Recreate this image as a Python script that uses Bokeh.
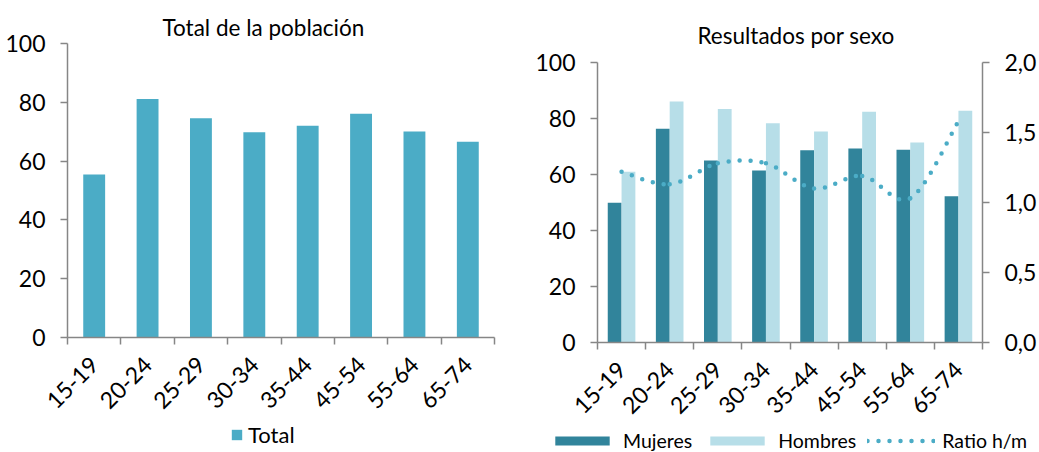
import numpy as np
from bokeh.plotting import figure
from bokeh.layouts import row, column
from bokeh.models import (Range1d, LinearAxis, FixedTicker, CustomJSTickFormatter,
                          Legend, LegendItem)
from bokeh.embed import file_html
from bokeh.resources import INLINE

# ---- data ----
categories = ["15-19", "20-24", "25-29", "30-34", "35-44", "45-54", "55-64", "65-74"]
total = [55.4, 81.1, 74.6, 69.8, 72.0, 76.1, 70.1, 66.6]
mujeres = [49.9, 76.3, 65.0, 61.4, 68.7, 69.3, 68.8, 52.2]
hombres = [61.0, 86.1, 83.4, 78.3, 75.4, 82.4, 71.4, 82.8]
ratio = [1.22, 1.13, 1.28, 1.28, 1.10, 1.19, 1.03, 1.58]
y_ticks = [0, 20, 40, 60, 80, 100]
ratio_ticks = [0.0, 0.5, 1.0, 1.5, 2.0]

FONT = "Lato"
FS = "23px"
TITLE_FS = "22.5px"
AXIS_COLOR = "#868686"
C_TOTAL = "#4BACC6"
C_MUJ = "#31849B"
C_HOM = "#B7DEE8"

n = len(categories)
xc = np.arange(n) + 0.5
cat_fmt = CustomJSTickFormatter(args=dict(labels=categories),
                                code="return labels[Math.floor(tick)];")


def style_x(ax):
    ax.ticker = FixedTicker(ticks=list(xc), minor_ticks=list(range(n + 1)))
    ax.formatter = cat_fmt
    ax.axis_line_color = AXIS_COLOR
    ax.axis_line_width = 1.5
    ax.major_tick_line_color = None
    ax.major_tick_out = 7
    ax.major_tick_in = 0
    ax.minor_tick_line_color = AXIS_COLOR
    ax.minor_tick_line_width = 1.5
    ax.minor_tick_out = 7
    ax.minor_tick_in = 0
    ax.major_label_orientation = np.pi / 4
    ax.major_label_standoff = 16
    ax.major_label_text_font = FONT
    ax.major_label_text_font_size = FS
    ax.major_label_text_color = "black"


def style_y(ax, ticks, standoff):
    ax.ticker = FixedTicker(ticks=ticks)
    ax.axis_line_color = AXIS_COLOR
    ax.axis_line_width = 1.5
    ax.major_tick_line_color = AXIS_COLOR
    ax.major_tick_line_width = 1.5
    ax.major_tick_out = 7
    ax.major_tick_in = 0
    ax.minor_tick_line_color = None
    ax.major_label_standoff = standoff
    ax.major_label_text_font = FONT
    ax.major_label_text_font_size = FS
    ax.major_label_text_color = "black"


def base_fig(w, h, title, bl, br, bt, bb, title_offset, standoff):
    p = figure(width=w, height=h, x_range=Range1d(0, n), y_range=Range1d(0, 100),
               output_backend="svg", toolbar_location=None,
               min_border_left=bl, min_border_right=br, min_border_top=bt,
               min_border_bottom=bb, frame_align=False)
    p.title.text = title
    p.title.align = "left"
    p.title.offset = title_offset
    p.title.standoff = standoff
    p.title.text_font = FONT
    p.title.text_font_size = TITLE_FS
    p.title.text_font_style = "normal"
    p.title.text_color = "black"
    p.outline_line_color = None
    p.xgrid.visible = False
    p.ygrid.visible = False
    style_x(p.xaxis[0])
    style_y(p.yaxis[0], y_ticks, 15)
    return p


def legend_fig(w, h):
    f = figure(width=w, height=h, x_range=Range1d(0, 1), y_range=Range1d(0, 1),
               x_axis_type=None, y_axis_type=None, min_border=0,
               output_backend="svg", toolbar_location=None, frame_align=False)
    f.outline_line_color = None
    f.xgrid.visible = False
    f.ygrid.visible = False
    return f


def make_legend(items, loc, gw, gh, standoff, spacing, fs):
    return Legend(items=items, location=loc, orientation="horizontal",
                  glyph_width=gw, glyph_height=gh, label_standoff=standoff,
                  spacing=spacing, label_text_font=FONT, label_text_font_size=fs,
                  label_text_color="black", padding=0, margin=0,
                  border_line_color=None, background_fill_alpha=0)


# ---- left: total ----
p1 = base_fig(523, 420, "Total de la población", 67, 29, 43, 83, 95, 6)
p1.vbar(x=xc, top=total, width=0.41, fill_color=C_TOTAL, line_color=None)

lf1 = legend_fig(523, 32)
k_tot = lf1.vbar(x=xc, top=total, width=0.41, fill_color=C_TOTAL, line_color=None,
                 visible=False)
lf1.add_layout(make_legend([LegendItem(label="Total", renderers=[k_tot])],
                           (230, 4), 13, 13, 5, 10, "22px"), "center")

# ---- right: por sexo ----
p2 = base_fig(516, 424, "Resultados por sexo", 74, 57, 62, 81, 100, 27)
p2.extra_y_ranges = {"ratio": Range1d(0, 2)}
ax_r = LinearAxis(y_range_name="ratio")
style_y(ax_r, ratio_ticks, 15)
ax_r.formatter = CustomJSTickFormatter(code="return tick.toFixed(1).replace('.', ',');")
p2.add_layout(ax_r, "right")

bw = 0.287
p2.vbar(x=xc - bw / 2, top=mujeres, width=bw, fill_color=C_MUJ, line_color=None)
p2.vbar(x=xc + bw / 2, top=hombres, width=bw, fill_color=C_HOM, line_color=None)

# smoothed dotted ratio line (bezier through the data points)
rx = list(xc)
ry = ratio
px = [rx[0]] + rx + [rx[-1]]
py = [ry[0]] + ry + [ry[-1]]
x0, y0, x1, y1, cx0, cy0, cx1, cy1 = [], [], [], [], [], [], [], []
for i in range(n - 1):
    j = i + 1
    x0.append(px[j]); y0.append(py[j])
    x1.append(px[j + 1]); y1.append(py[j + 1])
    cx0.append(px[j] + (px[j + 1] - px[j - 1]) / 6)
    cy0.append(py[j] + (py[j + 1] - py[j - 1]) / 6)
    cx1.append(px[j + 1] - (px[j + 2] - px[j]) / 6)
    cy1.append(py[j + 1] - (py[j + 2] - py[j]) / 6)
dot_style = dict(line_color=C_TOTAL, line_width=4.5, line_dash="0 11", line_cap="round")
p2.bezier(x0=x0, y0=y0, x1=x1, y1=y1, cx0=cx0, cy0=cy0, cx1=cx1, cy1=cy1,
          y_range_name="ratio", **dot_style)

lf2 = legend_fig(516, 28)
k_m = lf2.vbar(x=xc, top=mujeres, width=bw, fill_color=C_MUJ, line_color=None,
               visible=False)
k_h = lf2.vbar(x=xc, top=hombres, width=bw, fill_color=C_HOM, line_color=None,
               visible=False)
k_r = lf2.line(x=xc, y=ratio, visible=False, **dot_style)
lf2.add_layout(make_legend([LegendItem(label="Mujeres", renderers=[k_m]),
                            LegendItem(label="Hombres", renderers=[k_h]),
                            LegendItem(label="Ratio h/m", renderers=[k_r])],
                           (25, 0), 68, 11, 7, 11, "19.5px"), "center")

layout = row(column(p1, lf1, spacing=0), column(p2, lf2, spacing=0), spacing=0)
open("out.html", "w").write(file_html(layout, INLINE))
